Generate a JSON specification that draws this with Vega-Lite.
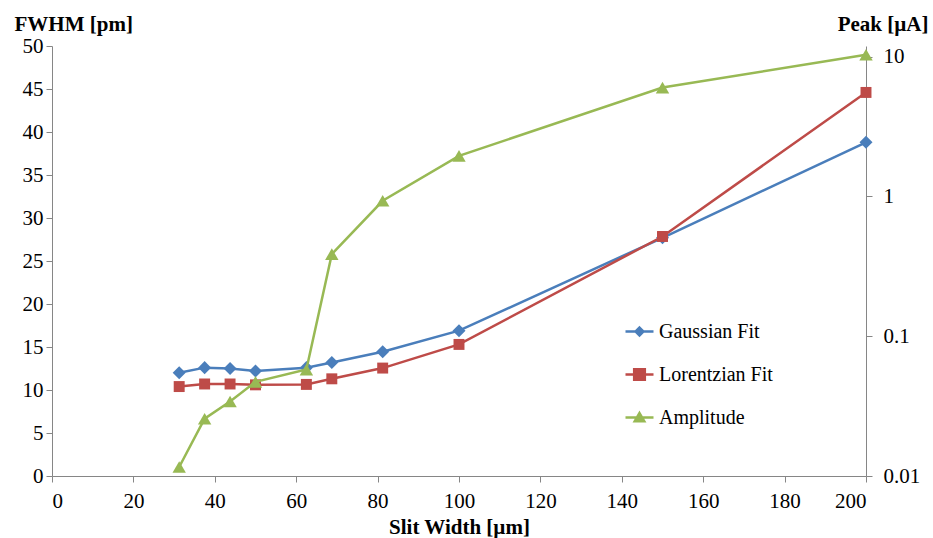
{
  "$schema": "https://vega.github.io/schema/vega-lite/v6.json",
  "width": 814,
  "height": 430,
  "autosize": "none",
  "padding": {"left": 52, "top": 46, "right": 67, "bottom": 62},
  "background": "white",
  "config": {
    "view": {"stroke": null},
    "font": "'Liberation Serif', 'DejaVu Serif', serif",
    "axis": {
      "domainColor": "#868686",
      "tickColor": "#868686",
      "tickSize": 6,
      "grid": false,
      "labelFont": "'Liberation Serif', 'DejaVu Serif', serif",
      "labelFontSize": 21,
      "labelColor": "#000000",
      "titleFont": "'Liberation Serif', 'DejaVu Serif', serif",
      "titleFontSize": 21,
      "titleFontWeight": "bold",
      "titleColor": "#000000"
    },
    "legend": {
      "labelFont": "'Liberation Serif', 'DejaVu Serif', serif"
    }
  },
  "datasets": {
    "fwhm": [
      {"slit": 31.25, "series": "Gaussian Fit", "value": 12.0},
      {"slit": 37.5, "series": "Gaussian Fit", "value": 12.6},
      {"slit": 43.75, "series": "Gaussian Fit", "value": 12.5},
      {"slit": 50, "series": "Gaussian Fit", "value": 12.2},
      {"slit": 62.5, "series": "Gaussian Fit", "value": 12.6},
      {"slit": 68.75, "series": "Gaussian Fit", "value": 13.2},
      {"slit": 81.25, "series": "Gaussian Fit", "value": 14.45},
      {"slit": 100, "series": "Gaussian Fit", "value": 16.9},
      {"slit": 150, "series": "Gaussian Fit", "value": 27.7},
      {"slit": 200, "series": "Gaussian Fit", "value": 38.8},
      {"slit": 31.25, "series": "Lorentzian Fit", "value": 10.4},
      {"slit": 37.5, "series": "Lorentzian Fit", "value": 10.7},
      {"slit": 43.75, "series": "Lorentzian Fit", "value": 10.7},
      {"slit": 50, "series": "Lorentzian Fit", "value": 10.6},
      {"slit": 62.5, "series": "Lorentzian Fit", "value": 10.65},
      {"slit": 68.75, "series": "Lorentzian Fit", "value": 11.3},
      {"slit": 81.25, "series": "Lorentzian Fit", "value": 12.55},
      {"slit": 100, "series": "Lorentzian Fit", "value": 15.3},
      {"slit": 150, "series": "Lorentzian Fit", "value": 27.85},
      {"slit": 200, "series": "Lorentzian Fit", "value": 44.6}
    ],
    "amplitude": [
      {"slit": 31.25, "series": "Amplitude", "peak": 0.0116},
      {"slit": 37.5, "series": "Amplitude", "peak": 0.0257},
      {"slit": 43.75, "series": "Amplitude", "peak": 0.0341},
      {"slit": 50, "series": "Amplitude", "peak": 0.0471},
      {"slit": 62.5, "series": "Amplitude", "peak": 0.0577},
      {"slit": 68.75, "series": "Amplitude", "peak": 0.386},
      {"slit": 81.25, "series": "Amplitude", "peak": 0.93},
      {"slit": 100, "series": "Amplitude", "peak": 1.95},
      {"slit": 150, "series": "Amplitude", "peak": 6.0},
      {"slit": 200, "series": "Amplitude", "peak": 10.3}
    ]
  },
  "encoding": {
    "x": {
      "field": "slit",
      "type": "quantitative",
      "scale": {"domain": [0, 200], "nice": false},
      "axis": {
        "values": [0, 20, 40, 60, 80, 100, 120, 140, 160, 180, 200],
        "title": "Slit Width [µm]",
        "labelPadding": 8,
        "titleAnchor": "middle",
        "titleBaseline": "alphabetic",
        "titleY": 57,
        "titleX": 407
      }
    }
  },
  "layer": [
    {
      "data": {"name": "fwhm"},
      "encoding": {
        "y": {
          "field": "value",
          "type": "quantitative",
          "scale": {"domain": [0, 50], "nice": false},
          "axis": {
            "orient": "left",
            "values": [0, 5, 10, 15, 20, 25, 30, 35, 40, 45, 50],
            "labelPadding": 3,
            "title": "FWHM [pm]",
            "titleAngle": 0,
            "titleAlign": "left",
            "titleBaseline": "alphabetic",
            "titleX": -38,
            "titleY": -16
          }
        }
      },
      "layer": [
        {
          "mark": {"type": "line", "strokeWidth": 2.5},
          "encoding": {
            "color": {
              "field": "series",
              "type": "nominal",
              "scale": {
                "domain": ["Gaussian Fit", "Lorentzian Fit", "Amplitude"],
                "range": ["#4A7EBB", "#BE4B48", "#98B954"]
              },
              "legend": {
                "orient": "none",
                "legendX": 572,
                "legendY": 270,
                "title": null,
                "labelFontSize": 20,
                "labelColor": "#000000",
                "labelOffset": 4,
                "symbolSize": 784,
                "symbolStrokeWidth": 2.5,
                "rowPadding": 17,
                "encode": {
                  "symbols": {
                    "update": {
                      "shape": {"signal": "datum.value === 'Gaussian Fit' ? 'M-1,0L1,0M0,-0.28L0.28,0L0,0.28L-0.28,0Z' : datum.value === 'Lorentzian Fit' ? 'M-1,0L1,0M-0.38,-0.38L0.38,-0.38L0.38,0.38L-0.38,0.38Z' : 'M-1,0L1,0M0,-0.32L0.34,0.26L-0.34,0.26Z'"},
                      "fill": {"scale": "color", "field": "value"}
                    }
                  }
                }
              }
            }
          }
        },
        {
          "transform": [{"filter": "datum.series === 'Gaussian Fit'"}],
          "mark": {"type": "point", "shape": "diamond", "filled": true, "opacity": 1, "color": "#4A7EBB", "size": 170}
        },
        {
          "transform": [{"filter": "datum.series === 'Lorentzian Fit'"}],
          "mark": {"type": "point", "shape": "square", "filled": true, "opacity": 1, "color": "#BE4B48", "size": 120}
        }
      ]
    },
    {
      "data": {"name": "amplitude"},
      "encoding": {
        "y": {
          "field": "peak",
          "type": "quantitative",
          "scale": {"type": "log", "domain": [0.01, 11.9], "nice": false},
          "axis": {
            "orient": "right",
            "values": [0.01, 0.1, 1, 10],
            "format": "~g",
            "labelPadding": 11,
            "title": "Peak [µA]",
            "titleAngle": 0,
            "titleAlign": "right",
            "titleBaseline": "alphabetic",
            "titleX": 62,
            "titleY": -16
          }
        }
      },
      "layer": [
        {
          "mark": {"type": "line", "strokeWidth": 2.5},
          "encoding": {
            "color": {"field": "series", "type": "nominal"}
          }
        },
        {
          "mark": {"type": "point", "shape": "triangle-up", "filled": true, "opacity": 1, "color": "#98B954", "size": 180}
        }
      ]
    }
  ],
  "resolve": {"scale": {"y": "independent"}}
}
